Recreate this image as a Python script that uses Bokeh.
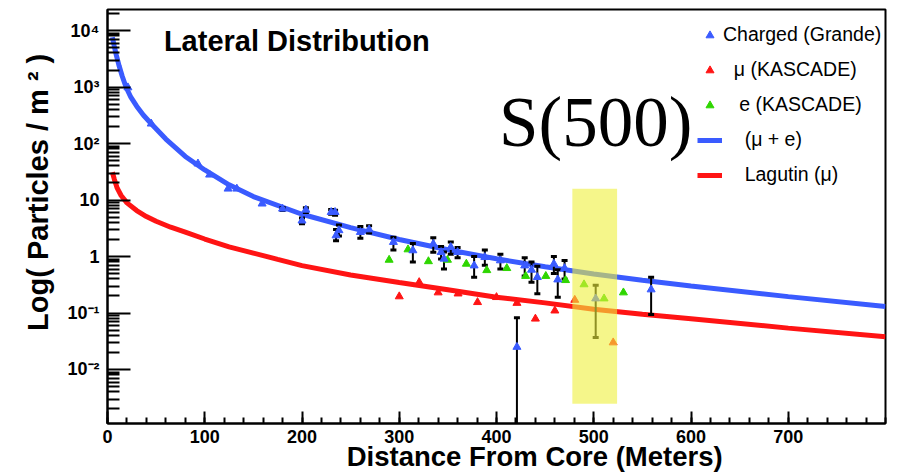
import math
from bokeh.plotting import figure
from bokeh.models import (Range1d, FixedTicker, Label, Legend, LegendItem)
from bokeh.embed import file_html
from bokeh.resources import INLINE

NAN = float("nan")

# ---------------- data ----------------
# fitted curve (mu + e), blue
mue_x = [5, 7, 9, 12, 15, 19, 24, 30, 37, 45, 60, 80, 100, 125, 150, 200, 250,
         300, 350, 400, 450, 500, 550, 600, 700, 800]
mue_y = [7600, 5250, 3700, 2350, 1580, 1000, 660, 457, 316, 224, 120, 59, 34,
         18.6, 11.5, 5.6, 3.24, 2.0, 1.32, 0.91, 0.66, 0.49, 0.38, 0.30, 0.195, 0.13]

# Lagutin (mu) curve, red
lag_x = [5, 7, 10, 14, 20, 30, 40, 50, 65, 80, 100, 125, 150, 175, 200, 250, 300,
         350, 400, 450, 500, 550, 600, 700, 800]
lag_y = [31, 23.4, 16.2, 12, 8.9, 6.5, 5.1, 4.2, 3.3, 2.7, 2.04, 1.48, 1.15, 0.89,
         0.69, 0.47, 0.347, 0.257, 0.19, 0.151, 0.117, 0.095, 0.079, 0.054, 0.038]

# Charged (Grande) with error bars
ch_x = [21, 45, 93, 105, 124, 133, 159, 180, 200, 204, 230, 234, 235, 238, 260, 269,
        294, 314, 335, 343, 346, 353, 360, 377, 388, 404, 421, 429, 436, 442, 459,
        463, 470, 502, 559]
ch_y = [980, 224, 44, 28, 15.8, 15.8, 8.6, 7.0, 4.3, 6.7, 6.1, 6.1, 2.35, 2.9, 2.7, 3.0,
        1.8, 1.28, 1.67, 1.19, 0.91, 1.46, 1.19, 0.69, 0.97, 0.85, 0.025, 0.69, 0.58,
        0.43, 0.74, 0.39, 0.62, 0.18, 0.26]
ch_lo = [NAN, NAN, NAN, NAN, NAN, NAN, NAN, 6.5, 3.8, 6.0, 5.6, 5.4, 1.9, 2.3, 2.1, 2.6,
         1.3, 0.8, 1.19, 0.9, 0.6, 1.1, 0.95, 0.43, 0.7, 0.6, 1e-4, 0.45, 0.35, 0.22,
         0.5, 0.19, 0.4, 0.037, 0.094]
ch_hi = [NAN, NAN, NAN, NAN, NAN, NAN, NAN, 7.4, 4.8, 7.3, 6.8, 6.6, 3.0, 3.6, 3.4, 3.5,
         2.2, 1.7, 2.14, 1.5, 1.2, 1.8, 1.45, 1.0, 1.3, 1.1, 0.082, 0.95, 0.8, 0.67,
         1.0, 0.58, 0.85, 0.31, 0.43]

# mu (KASCADE), red
mu_x = [300, 320.5, 340, 360.5, 380.5, 400, 421, 440, 460, 480.5, 520]
mu_y = [0.196, 0.35, 0.23, 0.22, 0.155, 0.19, 0.15, 0.079, 0.11, 0.17, 0.03]

# e (KASCADE), green
e_x = [289.6, 309, 330, 349.6, 369, 390, 410.6, 430, 450.7, 471, 490, 510.6, 530.5]
e_y = [0.87, 1.33, 0.82, 0.87, 0.74, 0.57, 0.62, 0.45, 0.45, 0.38, 0.32, 0.18, 0.23]

# S(500) highlight band
band_left = [478]
band_right = [524]
band_top = [15.8]
band_bottom = [0.00247]

# axes
x_ticks = [0, 100, 200, 300, 400, 500, 600, 700]
x_minor = [v for v in range(0, 801, 20)]
y_ticks = [1e-2, 1e-1, 1.0, 10.0, 100.0, 1000.0, 10000.0]
y_tick_labels = ["10\u207b\u00b2", "10\u207b\u00b9", "1", "10", "10\u00b2", "10\u00b3", "10\u2074"]
y_minor = [m * 10.0 ** e for e in range(-3, 5) for m in range(2, 10)]

X_MIN, X_MAX = 0, 800
Y_MIN, Y_MAX = 1.107e-3, 2.355e4

BLUE = "#3a5bff"
RED = "#ff1414"
GREEN = "#2ed600"
FONT = "Liberation Sans"
NB = "\u00a0"

p = figure(width=893, height=476, output_backend="svg", toolbar_location=None,
           y_axis_type="log", x_range=Range1d(X_MIN, X_MAX), y_range=Range1d(Y_MIN, Y_MAX),
           min_border_left=107, min_border_right=8, min_border_top=9, min_border_bottom=53)
p.grid.visible = False
p.outline_line_color = "black"
p.outline_line_width = 2
p.background_fill_color = "white"
p.border_fill_color = "white"

p.xaxis.ticker = FixedTicker(ticks=x_ticks, minor_ticks=x_minor)
p.yaxis.ticker = FixedTicker(ticks=y_ticks, minor_ticks=y_minor)
p.yaxis.major_label_overrides = dict(zip(y_ticks, y_tick_labels))

for ax in (p.xaxis, p.yaxis):
    ax.axis_line_width = 2
    ax.axis_line_color = "black"
    ax.major_tick_line_width = 2
    ax.minor_tick_line_width = 2
    ax.major_tick_line_color = "black"
    ax.minor_tick_line_color = "black"
    ax.major_tick_out = 0
    ax.minor_tick_out = 0
    ax.major_label_text_font = FONT
    ax.major_label_text_font_style = "bold"
    ax.major_label_text_font_size = "18px"
    ax.major_label_text_color = "black"
    ax.axis_label_text_font = FONT
    ax.axis_label_text_font_style = "bold"
    ax.axis_label_text_color = "black"

p.yaxis.major_tick_in = 23
p.yaxis.minor_tick_in = 12
p.yaxis.major_label_standoff = 8
p.xaxis.major_tick_in = 12
p.xaxis.minor_tick_in = 6
p.xaxis.major_label_standoff = 6

p.yaxis.axis_label = NB * 6 + "Log( Particles / m \u00b2 )"
p.yaxis.axis_label_text_font_size = "29px"
p.yaxis.axis_label_standoff = 10
p.xaxis.axis_label = NB * 10 + "Distance From Core (Meters)"
p.xaxis.axis_label_text_font_size = "27.5px"
p.xaxis.axis_label_standoff = -5

# curves
r_mue = p.line(mue_x, mue_y, line_color=BLUE, line_width=5)
r_lag = p.line(lag_x, lag_y, line_color=RED, line_width=5)

# error bars
p.segment(x0=ch_x, y0=ch_lo, x1=ch_x, y1=ch_hi, line_color="black", line_width=2)
p.scatter(ch_x, ch_lo, marker="dash", size=6, line_width=3, line_color="black")
p.scatter(ch_x, ch_hi, marker="dash", size=6, line_width=3, line_color="black")

# points
r_e = p.scatter(e_x, e_y, marker="triangle", size=8, fill_color=GREEN, line_color=GREEN)
r_mu = p.scatter(mu_x, mu_y, marker="triangle", size=8, fill_color=RED, line_color=RED)
r_ch = p.scatter(ch_x, ch_y, marker="triangle", size=8, fill_color=BLUE, line_color=BLUE)

# S(500) band
p.quad(left=band_left, right=band_right, top=band_top, bottom=band_bottom,
       fill_color="#eef03c", fill_alpha=0.6, line_alpha=0)

# texts
p.add_layout(Label(x=58, y=6650, text="Lateral Distribution", text_font=FONT,
                   text_font_style="bold", text_font_size="29px", text_color="black",
                   text_baseline="alphabetic"))
p.add_layout(Label(x=502, y=245, text="S(500)", text_font="Liberation Serif",
                   text_font_size="71px", text_color="black", text_align="center",
                   text_baseline="alphabetic"))

legend = Legend(items=[
    LegendItem(label="Charged (Grande)", renderers=[r_ch]),
    LegendItem(label=NB * 2 + "\u03bc (KASCADE)", renderers=[r_mu]),
    LegendItem(label=NB * 3 + "e (KASCADE)", renderers=[r_e]),
    LegendItem(label=NB * 4 + "(\u03bc + e)", renderers=[r_mue]),
    LegendItem(label=NB * 4 + "Lagutin (\u03bc)", renderers=[r_lag]),
], location=(590, 237), glyph_width=25, glyph_height=20, label_height=20,
    label_standoff=1, spacing=12, padding=0, margin=0,
    label_text_font=FONT, label_text_font_size="19.5px", label_text_color="black",
    border_line_alpha=0, background_fill_alpha=0)
p.add_layout(legend)

open("out.html", "w").write(file_html(p, INLINE))
